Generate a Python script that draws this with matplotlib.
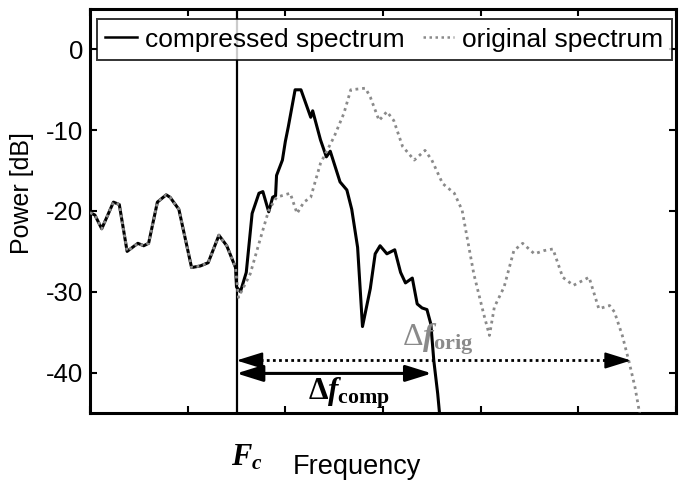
import matplotlib
matplotlib.use("Agg")
import matplotlib.pyplot as plt
import numpy as np

plt.rcParams['font.family'] = ['Liberation Sans', 'DejaVu Sans']
plt.rcParams['mathtext.fontset'] = 'custom'
plt.rcParams['mathtext.rm'] = 'Liberation Serif:bold'
plt.rcParams['mathtext.it'] = 'Liberation Serif:italic:bold'
plt.rcParams['mathtext.bf'] = 'Liberation Serif:bold'
plt.rcParams['mathtext.sf'] = 'Liberation Serif'

# ---- data (frequency in axis units, power in dB) ----
fc = 1.5

shared_x = [0.00, 0.05, 0.12, 0.24, 0.30, 0.38, 0.49, 0.55, 0.60, 0.69, 0.78, 0.82,
            0.91, 1.04, 1.13, 1.21, 1.32, 1.40, 1.49]
shared_y = [-20.2, -20.5, -22.2, -18.9, -19.2, -25.0, -24.0, -24.3, -24.0, -18.9, -18.0, -18.3,
            -19.8, -27.0, -26.8, -26.4, -23.0, -24.3, -27.0]

comp_x = [1.50, 1.54, 1.60, 1.66, 1.73, 1.77, 1.83, 1.87, 1.90, 1.91, 1.97, 2.00, 2.03,
          2.10, 2.16, 2.26, 2.28, 2.36, 2.42, 2.46, 2.56, 2.63, 2.68, 2.74, 2.79, 2.87,
          2.92, 2.97, 3.04, 3.12, 3.18, 3.23, 3.30, 3.35, 3.40, 3.45, 3.49, 3.52, 3.56, 3.58]
comp_y = [-29.4, -30.0, -27.6, -20.3, -17.8, -17.6, -20.1, -18.3, -18.1, -15.6, -13.7, -11.4, -9.6,
          -5.0, -5.0, -8.4, -7.6, -11.2, -13.3, -12.6, -16.4, -17.4, -19.8, -24.5, -34.3, -29.6,
          -25.3, -24.3, -25.3, -24.8, -27.6, -28.9, -28.3, -31.5, -32.0, -32.2, -34.0, -38.5, -42.6, -45.2]

orig_x = [1.52, 1.64, 1.74, 1.83, 1.91, 2.05, 2.12, 2.19, 2.26, 2.36, 2.50, 2.60, 2.67,
          2.82, 2.87, 2.96, 3.04, 3.11, 3.20, 3.32, 3.43, 3.50, 3.61, 3.73, 3.81, 3.86,
          3.93, 4.03, 4.09, 4.14, 4.24, 4.34, 4.43, 4.55, 4.65, 4.74, 4.84, 4.95, 5.11,
          5.21, 5.32, 5.37, 5.45, 5.52, 5.58, 5.63]
orig_y = [-30.7, -27.8, -23.6, -19.9, -18.3, -17.8, -20.3, -18.9, -18.3, -14.1, -10.8, -7.9, -5.0,
          -4.8, -5.9, -8.8, -7.7, -8.8, -12.0, -13.7, -12.5, -13.7, -16.6, -17.8, -19.9, -23.2,
          -27.8, -32.7, -35.4, -31.9, -29.4, -24.9, -24.0, -25.3, -24.9, -24.7, -28.2, -29.2, -28.2,
          -32.1, -31.7, -32.5, -35.4, -38.7, -41.8, -45.2]

y_ticks = [0, -10, -20, -30, -40]
x_ticks = [0, 1, 2, 3, 4, 5, 6]

comp_full_x = shared_x + comp_x
comp_full_y = shared_y + comp_y
orig_full_x = shared_x + orig_x
orig_full_y = shared_y + orig_y

bw_arrow_y = -40.1     # compressed bandwidth arrow level
orig_arrow_y = -38.5   # original bandwidth arrow level
comp_end = 3.50
orig_end = 5.54

fig = plt.figure(figsize=(6.88, 4.91), dpi=100)
ax = fig.add_axes([90/688, 1-413/491, 586/688, 404/491])

ax.plot(comp_full_x, comp_full_y, color='black', lw=2.2, solid_joinstyle='round',
        label='compressed spectrum', zorder=3)
ax.plot(orig_full_x, orig_full_y, color='#8a8a8a', lw=2.0, linestyle=(0, (1, 1.4)),
        label='original spectrum', zorder=4)
ax.axvline(fc, color='black', lw=1.6, zorder=2)

ax.set_xlim(0, 6)
ax.set_ylim(-45, 5)
ax.set_xticks(x_ticks)
ax.set_xticklabels([])
ax.set_yticks(y_ticks)
ax.set_yticklabels([str(t) for t in y_ticks])
ax.tick_params(direction='in', length=5, width=1.5, top=True, right=True,
               labelsize=18.5, pad=5)
for s in ax.spines.values():
    s.set_linewidth(2.2)

leg = ax.legend(loc='upper left', bbox_to_anchor=(0.012, 0.975, 0.981, 0), mode='expand',
                ncol=2, borderaxespad=0, fontsize=19, frameon=True, fancybox=False,
                handlelength=1.2, handletextpad=0.3, borderpad=0.32, columnspacing=0.2)
leg.get_frame().set_edgecolor('black')
leg.get_frame().set_linewidth(1.4)
leg.set_zorder(10)
for ln in leg.get_lines():
    ln.set_linewidth(1.8)

# bandwidth arrows
hs = 'head_length=0.8,head_width=0.25'
ax.annotate('', xy=(comp_end, bw_arrow_y), xytext=(fc, bw_arrow_y),
            arrowprops=dict(arrowstyle='<|-|>,' + hs,
                            color='black', lw=2.2, shrinkA=0, shrinkB=0, mutation_scale=20),
            zorder=6)
ax.plot([fc + 0.12, orig_end - 0.12], [orig_arrow_y, orig_arrow_y], color='black',
        lw=2.0, linestyle=(0, (1, 1.2)), zorder=6)
ax.annotate('', xy=(orig_end, orig_arrow_y), xytext=(orig_end - 0.2, orig_arrow_y),
            arrowprops=dict(arrowstyle='-|>,' + hs,
                            color='black', lw=1.5, shrinkA=0, shrinkB=0, mutation_scale=20),
            zorder=6)
ax.annotate('', xy=(fc, orig_arrow_y), xytext=(fc + 0.2, orig_arrow_y),
            arrowprops=dict(arrowstyle='-|>,' + hs,
                            color='black', lw=1.5, shrinkA=0, shrinkB=0, mutation_scale=20),
            zorder=6)

ax.text(2.65, -42.5, r'$\Delta f_{\mathbf{comp}}$', fontsize=22.5, ha='center', va='center',
        color='black', zorder=7)
ax.text(3.56, -35.9, r'$\mathsf{\Delta} f_{\mathbf{orig}}$', fontsize=23, ha='center',
        va='center', color='#8a8a8a', zorder=7)

fig.text(247/688, 1-458/491, r'$F_c$', fontsize=22, ha='center', va='center')
fig.text(357/688, 1-467/491, 'Frequency', fontsize=19.5, ha='center', va='center')
fig.text(22/688, 1-193/491, 'Power [dB]', fontsize=18, ha='center', va='center', rotation=90)

fig.savefig('out.png', dpi=100)
